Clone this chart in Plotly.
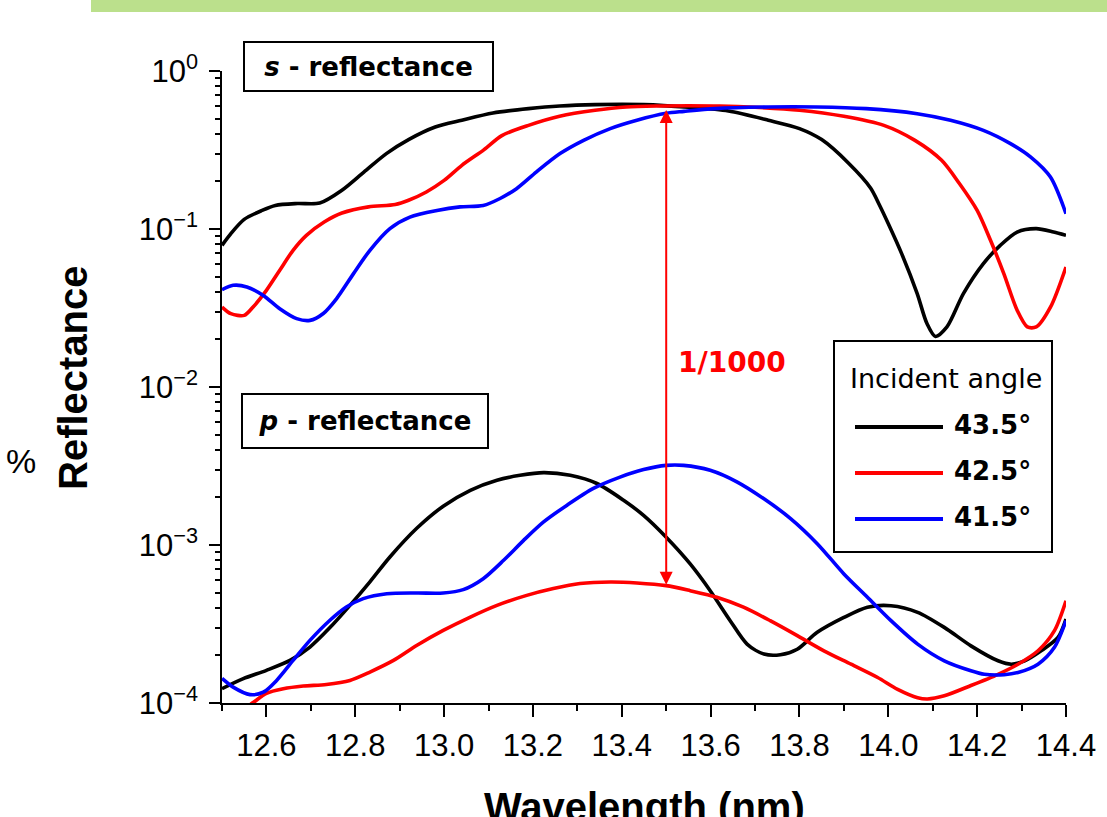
import math
import plotly.graph_objects as go

# ---------------------------------------------------------------------------
# Series definitions
# ---------------------------------------------------------------------------
ANGLES = ["43.5°", "42.5°", "41.5°"]
COLORS = ["#000000", "#ff0000", "#0000ff"]

# s-polarised reflectance, 43.5 deg
wl_s_435 = [12.50, 12.52, 12.55, 12.59, 12.62, 12.67, 12.72, 12.77, 12.82, 12.87,
            12.92, 12.98, 13.04, 13.11, 13.19, 13.26, 13.34, 13.45, 13.55, 13.64,
            13.73, 13.80, 13.85, 13.91, 13.96, 13.98, 14.00, 14.03, 14.065, 14.087, 14.106,
            14.132, 14.169, 14.214, 14.252, 14.29, 14.333, 14.372, 14.40]
refl_s_435 = [0.0788, 0.0935, 0.115, 0.131, 0.141, 0.145, 0.146, 0.176, 0.23, 0.30,
              0.368, 0.442, 0.488, 0.542, 0.578, 0.601, 0.613, 0.613, 0.59, 0.558,
              0.488, 0.432, 0.368, 0.262, 0.182, 0.142, 0.108, 0.0699, 0.039, 0.0252, 0.0209,
              0.024, 0.039, 0.0604, 0.0788, 0.0957, 0.1005, 0.0957, 0.0912]

# s-polarised reflectance, 42.5 deg
wl_s_425 = [12.50, 12.52, 12.55, 12.57, 12.60, 12.63, 12.66, 12.69, 12.73, 12.77,
            12.83, 12.89, 12.92, 12.96, 13.00, 13.04, 13.09, 13.13, 13.19, 13.26,
            13.34, 13.41, 13.48, 13.55, 13.62, 13.70, 13.80, 13.90, 13.99, 14.06,
            14.12, 14.16, 14.20, 14.23, 14.26, 14.29, 14.313, 14.333, 14.365, 14.40]
refl_s_425 = [0.0321, 0.0291, 0.0284, 0.0321, 0.0409, 0.0548, 0.0733, 0.0912, 0.1107, 0.1262,
              0.138, 0.1427, 0.152, 0.1715, 0.203, 0.253, 0.318, 0.39, 0.453, 0.517,
              0.564, 0.592, 0.601, 0.603, 0.601, 0.59, 0.565, 0.517, 0.453, 0.364,
              0.272, 0.194, 0.131, 0.0848, 0.0522, 0.0306, 0.024, 0.024, 0.032, 0.0575]

# s-polarised reflectance, 41.5 deg
wl_s_415 = [12.50, 12.525, 12.556, 12.593, 12.63, 12.668, 12.698, 12.728, 12.758, 12.796,
            12.833, 12.878, 12.923, 12.984, 13.036, 13.088, 13.126, 13.163, 13.208, 13.261,
            13.314, 13.374, 13.434, 13.50, 13.54, 13.61, 13.73, 13.84, 13.95, 14.065,
            14.14, 14.214, 14.275, 14.32, 14.365, 14.40]
refl_s_415 = [0.0413, 0.044, 0.043, 0.038, 0.0313, 0.0271, 0.0264, 0.0292, 0.0363, 0.0522,
              0.0733, 0.1006, 0.119, 0.131, 0.138, 0.141, 0.156, 0.18, 0.23, 0.30,
              0.364, 0.432, 0.488, 0.54, 0.555, 0.578, 0.592, 0.592, 0.578, 0.537,
              0.488, 0.421, 0.347, 0.286, 0.213, 0.125]

# p-polarised reflectance, 43.5 deg
wl_p_435 = [12.50, 12.548, 12.60, 12.653, 12.698, 12.743, 12.788, 12.833, 12.878, 12.939,
            12.998, 13.059, 13.119, 13.171, 13.224, 13.284, 13.344, 13.404, 13.449, 13.50,
            13.554, 13.599, 13.644, 13.682, 13.72, 13.757, 13.795, 13.84, 13.90, 13.953,
            14.006, 14.066, 14.126, 14.186, 14.247, 14.277, 14.307, 14.344, 14.382, 14.40]
refl_p_435 = [1.233e-4, 1.426e-4, 1.61e-4, 1.86e-4, 2.26e-4, 3.0e-4, 4.15e-4, 5.85e-4, 8.4e-4, 1.28e-3,
              1.76e-3, 2.22e-3, 2.57e-3, 2.76e-3, 2.87e-3, 2.76e-3, 2.45e-3, 1.92e-3, 1.54e-3, 1.12e-3,
              7.59e-4, 5.14e-4, 3.32e-4, 2.36e-4, 2.04e-4, 2.02e-4, 2.19e-4, 2.8e-4, 3.48e-4, 4.04e-4,
              4.13e-4, 3.75e-4, 3.01e-4, 2.3e-4, 1.85e-4, 1.76e-4, 1.85e-4, 2.14e-4, 2.6e-4, 3.4e-4]

# p-polarised reflectance, 42.5 deg
wl_p_425 = [12.50, 12.54, 12.571, 12.60, 12.638, 12.683, 12.735, 12.788, 12.833, 12.886,
            12.939, 12.998, 13.059, 13.119, 13.186, 13.246, 13.306, 13.374, 13.434, 13.50,
            13.554, 13.614, 13.674, 13.734, 13.795, 13.855, 13.916, 13.976, 14.021, 14.066,
            14.088, 14.126, 14.186, 14.247, 14.292, 14.337, 14.374, 14.40]
refl_p_425 = [7.6e-5, 8.8e-5, 1.01e-4, 1.15e-4, 1.23e-4, 1.28e-4, 1.31e-4, 1.39e-4, 1.57e-4, 1.86e-4,
              2.32e-4, 2.88e-4, 3.5e-4, 4.15e-4, 4.8e-4, 5.3e-4, 5.7e-4, 5.83e-4, 5.75e-4, 5.53e-4,
              5.14e-4, 4.67e-4, 4.04e-4, 3.32e-4, 2.67e-4, 2.14e-4, 1.76e-4, 1.45e-4, 1.22e-4, 1.08e-4,
              1.06e-4, 1.11e-4, 1.29e-4, 1.52e-4, 1.76e-4, 2.14e-4, 2.87e-4, 4.44e-4]

# p-polarised reflectance, 41.5 deg
wl_p_415 = [12.50, 12.525, 12.563, 12.593, 12.623, 12.66, 12.698, 12.743, 12.78, 12.818,
            12.871, 12.939, 12.998, 13.043, 13.088, 13.134, 13.179, 13.224, 13.276, 13.336,
            13.396, 13.449, 13.50, 13.539, 13.599, 13.659, 13.72, 13.78, 13.84, 13.90,
            13.953, 14.006, 14.066, 14.126, 14.186, 14.216, 14.261, 14.292, 14.337, 14.374, 14.40]
refl_p_415 = [1.43e-4, 1.26e-4, 1.13e-4, 1.17e-4, 1.39e-4, 1.86e-4, 2.49e-4, 3.34e-4, 4.05e-4, 4.58e-4,
              4.92e-4, 4.97e-4, 4.97e-4, 5.22e-4, 6.12e-4, 8.0e-4, 1.07e-3, 1.4e-3, 1.78e-3, 2.28e-3,
              2.69e-3, 3.0e-3, 3.19e-3, 3.19e-3, 2.97e-3, 2.51e-3, 1.96e-3, 1.47e-3, 1.02e-3, 6.56e-4,
              4.67e-4, 3.32e-4, 2.36e-4, 1.85e-4, 1.6e-4, 1.52e-4, 1.51e-4, 1.56e-4, 1.76e-4, 2.25e-4, 3.32e-4]

# Axis ticks
x_ticks = [12.6, 12.8, 13.0, 13.2, 13.4, 13.6, 13.8, 14.0, 14.2, 14.4]
x_tick_labels = ["12.6", "12.8", "13.0", "13.2", "13.4", "13.6", "13.8", "14.0", "14.2", "14.4"]
y_ticks = [1e-4, 1e-3, 1e-2, 1e-1, 1e0]
y_tick_labels = ["10<sup>−4</sup>", "10<sup>−3</sup>", "10<sup>−2</sup>",
                 "10<sup>−1</sup>", "10<sup>0</sup>"]

# Ratio marker between s- and p-reflectance peaks
ratio_wl = 13.5
ratio_top = 0.578
ratio_bottom = 5.6e-4
ratio_label = "1/1000"

# ---------------------------------------------------------------------------
# Geometry helpers (pixel -> paper)
# ---------------------------------------------------------------------------
W, H = 1107, 817
PL, PR, PT, PB = 222, 1066, 71, 703


def px(xp):
    return (xp - PL) / (PR - PL)


def py(yp):
    return (PB - yp) / (PB - PT)


series = [
    (wl_s_435, refl_s_435, 0), (wl_s_425, refl_s_425, 1), (wl_s_415, refl_s_415, 2),
    (wl_p_435, refl_p_435, 0), (wl_p_425, refl_p_425, 1), (wl_p_415, refl_p_415, 2),
]

fig = go.Figure()
for xs, ys, k in series:
    fig.add_trace(go.Scatter(
        x=xs, y=ys, mode="lines",
        line=dict(color=COLORS[k], width=3.6, shape="spline", smoothing=0.8),
        name=ANGLES[k], showlegend=False, hoverinfo="skip",
    ))

minor_y = [m * 10 ** e for e in range(-4, 0) for m in range(2, 10)]
tick_font = dict(family="Liberation Sans, Arial", size=31, color="black")

axis_common = dict(showgrid=False, zeroline=False, showline=True,
                   linecolor="black", linewidth=1.5, tickcolor="black", tickwidth=1.5)

fig.update_layout(
    width=W, height=H,
    margin=dict(l=PL, r=W - PR, t=PT, b=H - PB, pad=0),
    paper_bgcolor="white", plot_bgcolor="white",
    font=dict(family="Liberation Sans, Arial", color="black"),
    showlegend=False,
    xaxis=dict(range=[12.5, 14.4], tickmode="array", tickvals=x_ticks, ticktext=x_tick_labels,
               ticks="outside", ticklen=12, tickfont=tick_font, ticklabelstandoff=2,
               minor=dict(dtick=0.1, tick0=12.5, ticks="outside", ticklen=6,
                          tickcolor="black", tickwidth=1.5),
               **axis_common),
    yaxis=dict(type="log", range=[-4, 0], tickmode="array", tickvals=y_ticks, ticktext=y_tick_labels,
               ticks="outside", ticklen=11, tickfont=tick_font, ticklabelstandoff=5,
               minor=dict(tickmode="array", tickvals=minor_y, ticks="outside", ticklen=5,
                          tickcolor="black", tickwidth=1.5),
               **axis_common),
    xaxis2=dict(overlaying="x", side="top", anchor="y", range=[12.5, 14.4],
                tickmode="array", tickvals=x_ticks, showticklabels=False,
                ticks="inside", ticklen=12,
                minor=dict(dtick=0.1, tick0=12.5, ticks="inside", ticklen=6,
                           tickcolor="black", tickwidth=1.5),
                **axis_common),
    yaxis2=dict(overlaying="y", side="right", anchor="x", type="log", range=[-4, 0],
                tickmode="array", tickvals=y_ticks, showticklabels=False,
                ticks="inside", ticklen=11,
                minor=dict(tickmode="array", tickvals=minor_y, ticks="inside", ticklen=5,
                           tickcolor="black", tickwidth=1.5),
                **axis_common),
)

shapes = []
# Header band
shapes.append(dict(type="rect", xref="paper", yref="paper",
                   x0=px(91), x1=px(1110), y0=py(12), y1=py(-2),
                   fillcolor="#bbe08c", line=dict(width=0), layer="below"))
# Legend frame
shapes.append(dict(type="rect", xref="paper", yref="paper",
                   x0=px(834), x1=px(1052), y0=py(552), y1=py(341),
                   fillcolor="white", line=dict(color="black", width=2), layer="above"))
legend_rows = [427, 473, 519]
for k, yrow in enumerate(legend_rows):
    shapes.append(dict(type="line", xref="paper", yref="paper",
                       x0=px(855), x1=px(943), y0=py(yrow), y1=py(yrow),
                       line=dict(color=COLORS[k], width=4), layer="above"))
fig.update_layout(shapes=shapes)

box_font = dict(family="DejaVu Sans, Verdana", size=26, color="black")
annotations = [
    dict(text="<b><i>s</i> - reflectance</b>", xref="paper", yref="paper",
         x=px(368.5), y=py(66.5), xanchor="center", yanchor="middle", showarrow=False,
         font=box_font, bgcolor="white", bordercolor="black", borderwidth=2, borderpad=0,
         width=247, height=47),
    dict(text="<b><i>p</i> - reflectance</b>", xref="paper", yref="paper",
         x=px(365), y=py(421), xanchor="center", yanchor="middle", showarrow=False,
         font=box_font, bgcolor="white", bordercolor="black", borderwidth=2, borderpad=0,
         width=244, height=52),
    # ratio arrow
    dict(text="", x=ratio_wl, y=math.log10(ratio_bottom), xref="x", yref="y",
         ax=ratio_wl, ay=math.log10(ratio_top), axref="x", ayref="y",
         showarrow=True, arrowhead=2, startarrowhead=2, arrowside="end+start",
         arrowwidth=2, arrowsize=1.3, startarrowsize=1.3, arrowcolor="#ff0000",
         standoff=0, startstandoff=0),
    dict(text="<b>" + ratio_label + "</b>", xref="paper", yref="paper",
         x=px(732), y=py(362), xanchor="center", yanchor="middle", showarrow=False,
         font=dict(family="DejaVu Sans, Verdana", size=28, color="#ff0000")),
    # legend text
    dict(text="Incident angle", xref="paper", yref="paper",
         x=px(945.5), y=py(378), xanchor="center", yanchor="middle", showarrow=False,
         font=dict(family="DejaVu Sans, Verdana", size=27, color="black")),
    # axis titles
    dict(text="<b>Reflectance</b>", xref="paper", yref="paper",
         x=px(73), y=py(378), xanchor="center", yanchor="middle", showarrow=False,
         textangle=-90, font=dict(family="Liberation Sans, Arial", size=40, color="black")),
    dict(text="%", xref="paper", yref="paper",
         x=px(21), y=py(461), xanchor="center", yanchor="middle", showarrow=False,
         font=dict(family="Liberation Sans, Arial", size=34, color="black")),
    dict(text="<b>Wavelength (nm)</b>", xref="paper", yref="paper",
         x=px(644), y=py(806.6), xanchor="center", yanchor="middle", showarrow=False,
         font=dict(family="Liberation Sans, Arial", size=40, color="black")),
]
for k, yrow in enumerate(legend_rows):
    annotations.append(dict(text="<b>" + ANGLES[k] + "</b>", xref="paper", yref="paper",
                            x=px(952), y=py(yrow - 2), xanchor="left", yanchor="middle",
                            showarrow=False,
                            font=dict(family="DejaVu Sans, Verdana", size=26, color="black")))
fig.update_layout(annotations=annotations)

fig.write_html("out.html", config={"displayModeBar": False})
